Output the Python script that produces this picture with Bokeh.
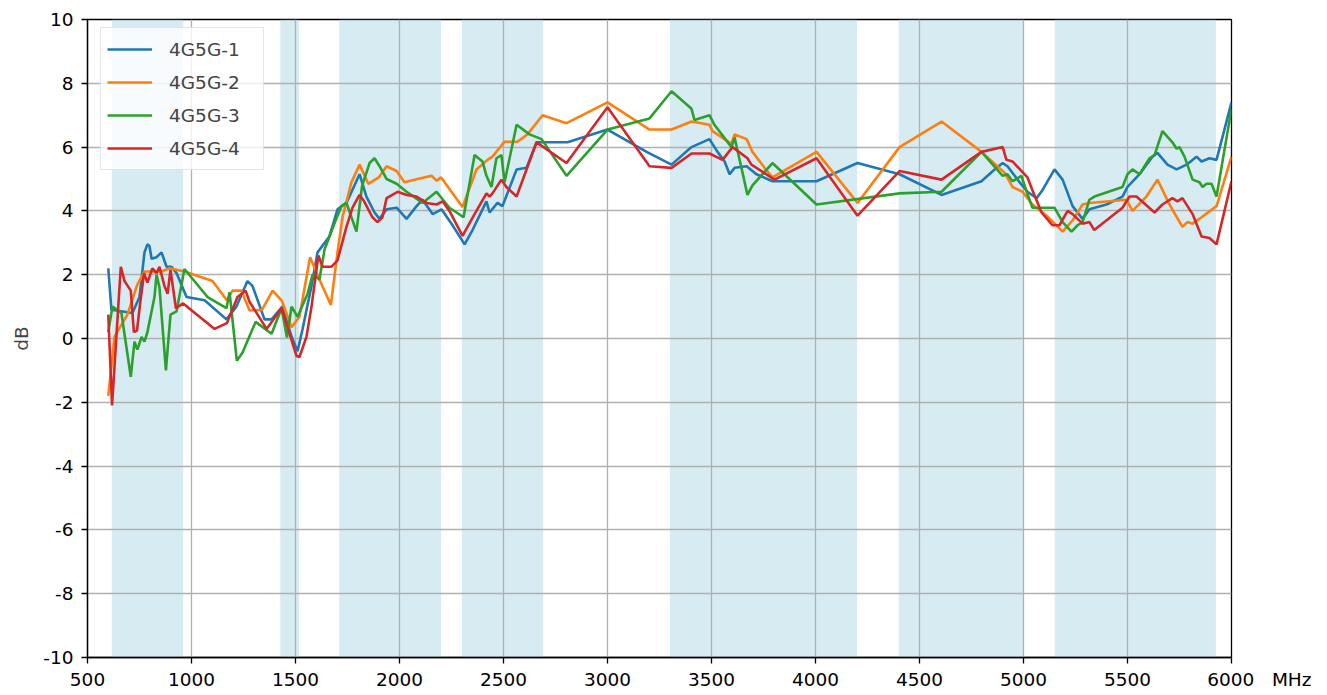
from bokeh.plotting import figure
from bokeh.models import BoxAnnotation, FixedTicker, Range1d
from bokeh.embed import file_html
from bokeh.resources import INLINE

# ---- data ----
band_start = [617, 1427, 1710, 2300, 3300, 4400, 5150]
band_end = [960, 1518, 2200, 2690, 4200, 5000, 5925]

x_ticks = [500, 1000, 1500, 2000, 2500, 3000, 3500, 4000, 4500, 5000, 5500, 6000]
y_ticks = [-10, -8, -6, -4, -2, 0, 2, 4, 6, 8, 10]
x_unit = "MHz"
y_unit = "dB"

s1_x = [600, 615, 716, 750, 774, 788, 798, 808, 832, 856, 880, 904, 928, 976, 1063, 1168, 1216, 1269, 1293,
        1351, 1385, 1437, 1481, 1510, 1534, 1577, 1606, 1663, 1702, 1745, 1808, 1841, 1880, 1904, 1938, 1986,
        2034, 2082, 2111, 2159, 2202, 2255, 2313, 2351, 2418, 2433, 2471, 2495, 2563, 2611, 2659, 2808, 3000,
        3188, 3308, 3404, 3490, 3529, 3563, 3587, 3611, 3669, 3716, 3793, 4005, 4202, 4404, 4606, 4798, 4861,
        4900, 4923, 4981, 5019, 5063, 5091, 5149, 5188, 5236, 5284, 5317, 5399, 5476, 5500, 5558, 5620, 5644,
        5692, 5736, 5784, 5832, 5856, 5894, 5928, 6000]
s1_y = [2.2, 0.9, 0.8, 1.3, 2.7, 2.95, 2.9, 2.5, 2.55, 2.7, 2.25, 2.25, 2.05, 1.3, 1.2, 0.6, 1.0, 1.8, 1.65,
        0.6, 0.6, 1.0, 0.06, -0.4, 0.3, 1.65, 2.7, 3.2, 4.05, 4.25, 5.15, 4.45, 3.95, 3.75, 4.05, 4.1,
        3.75, 4.15, 4.35, 3.9, 4.05, 3.55, 2.95, 3.4, 4.3, 3.95, 4.25, 4.15, 5.3, 5.35, 6.15, 6.15, 6.55,
        5.85, 5.45, 6.0, 6.25, 5.85, 5.55, 5.15, 5.35, 5.4, 5.15, 4.93, 4.93, 5.5, 5.15, 4.5, 4.93, 5.3,
        5.5, 5.4, 4.9, 4.6, 4.4, 4.65, 5.3, 4.98, 4.15, 3.75, 4.05, 4.2, 4.45, 4.75, 5.15, 5.7, 5.82,
        5.45, 5.3, 5.45, 5.7, 5.55, 5.65, 5.6, 7.4]

s2_x = [600, 630, 692, 740, 774, 856, 894, 966, 1101, 1170, 1197, 1240, 1279, 1339, 1390, 1435, 1481, 1519,
        1570, 1615, 1670, 1702, 1726, 1769, 1808, 1850, 1900, 1938, 1986, 2024, 2087, 2154, 2178, 2200, 2303,
        2370, 2423, 2447, 2505, 2567, 2615, 2688, 2803, 3000, 3202, 3308, 3404, 3490, 3505, 3596, 3611, 3669,
        3697, 3755, 3793, 4005, 4202, 4404, 4606, 4798, 4909, 4947, 4995, 5043, 5111, 5188, 5236, 5284, 5317,
        5495, 5524, 5591, 5644, 5702, 5764, 5788, 5813, 5856, 5928, 6000]
s2_y = [-1.8, 0.06, 0.75, 1.7, 2.1, 2.1, 2.2, 2.1, 1.8, 1.2, 1.5, 1.5, 0.88, 0.9, 1.5, 1.18, 0.35, 0.68,
        2.55, 1.85, 1.05, 2.7, 3.8, 4.9, 5.45, 4.85, 5.05, 5.4, 5.25, 4.9, 5.0, 5.1, 4.95, 5.05, 4.12,
        5.3, 5.6, 5.7, 6.17, 6.17, 6.4, 7.0, 6.75, 7.4, 6.55, 6.55, 6.8, 6.7, 6.5, 6.1, 6.4, 6.25,
        5.85, 5.35, 5.05, 5.85, 4.25, 6.0, 6.8, 5.85, 5.2, 4.75, 4.6, 4.2, 3.85, 3.35, 3.7, 4.2, 4.25,
        4.35, 4.0, 4.45, 4.98, 4.2, 3.5, 3.65, 3.6, 3.8, 4.15, 5.7]

s3_x = [600, 620, 663, 708, 726, 740, 760, 774, 788, 822, 832, 846, 877, 899, 928, 966, 1077, 1168, 1183,
        1218, 1245, 1308, 1385, 1433, 1459, 1481, 1510, 1558, 1582, 1615, 1640, 1690, 1721, 1745, 1793, 1820,
        1856, 1880, 1904, 1938, 1986, 2034, 2111, 2178, 2240, 2308, 2361, 2399, 2418, 2442, 2466, 2490, 2505,
        2563, 2625, 2683, 2803, 3000, 3202, 3308, 3404, 3418, 3490, 3514, 3596, 3611, 3649, 3673, 3697, 3793,
        4005, 4404, 4606, 4798, 4900, 4923, 4947, 4966, 4990, 5015, 5043, 5149, 5188, 5231, 5260, 5284, 5317,
        5341, 5476, 5500, 5524, 5558, 5606, 5630, 5668, 5716, 5736, 5750, 5774, 5813, 5846, 5861, 5880, 5904,
        5928, 6000]
s3_y = [0.2, 1.0, 0.8, -1.2, -0.1, -0.35, 0.05, -0.1, 0.2, 1.3, 2.0, 1.6, -1.0, 0.75, 0.85, 2.18, 1.3, 0.95, 1.45,
        -0.7, -0.45, 0.52, 0.15, 0.95, 0.03, 1.0, 0.68, 1.4, 2.0, 1.85, 2.8, 3.65, 4.15, 4.25, 3.35, 4.78,
        5.5, 5.65, 5.4, 5.0, 4.85, 4.6, 4.25, 4.6, 4.1, 3.8, 5.75, 5.55, 5.1, 4.75, 5.65, 5.75, 4.9,
        6.7, 6.4, 6.25, 5.1, 6.55, 6.9, 7.75, 7.2, 6.85, 7.0, 6.7, 6.0, 6.3, 5.2, 4.5, 4.8, 5.5,
        4.2, 4.55, 4.6, 5.85, 5.1, 5.15, 4.93, 5.0, 5.1, 4.6, 4.1, 4.1, 3.65, 3.35, 3.55, 3.65, 4.35,
        4.45, 4.75, 5.15, 5.3, 5.15, 5.65, 5.75, 6.5, 6.15, 5.95, 6.0, 5.7, 4.98, 4.9, 4.75, 4.85, 4.85,
        4.45, 7.2]

s4_x = [600, 618, 660, 678, 708, 723, 738, 755, 772, 788, 812, 832, 846, 870, 885, 899, 925, 960, 1111, 1170,
        1221, 1260, 1279, 1361, 1433, 1457, 1505, 1519, 1553, 1577, 1610, 1630, 1673, 1702, 1745, 1774, 1808,
        1830, 1870, 1894, 1918, 1938, 1991, 2034, 2082, 2130, 2178, 2207, 2240, 2303, 2361, 2418, 2433, 2447,
        2490, 2514, 2563, 2659, 2803, 3000, 3202, 3308, 3404, 3490, 3553, 3601, 3673, 3692, 3803, 4005, 4202,
        4404, 4606, 4798, 4900, 4918, 4947, 5019, 5043, 5087, 5139, 5173, 5212, 5236, 5284, 5317, 5340, 5476,
        5510, 5543, 5630, 5668, 5716, 5740, 5764, 5813, 5856, 5894, 5928, 6000]
s4_y = [0.75, -2.1, 2.25, 1.8, 1.5, 0.2, 0.25, 1.2, 2.05, 1.75, 2.2, 2.05, 2.25, 1.65, 1.4, 2.15, 0.95, 1.1, 0.3, 0.48,
        1.3, 1.5, 1.15, 0.3, 0.95, 0.45, -0.55, -0.58, 0.06, 1.0, 2.6, 2.25, 2.25, 2.45, 3.5, 4.1, 4.5,
        4.3, 3.8, 3.65, 3.8, 4.4, 4.6, 4.5, 4.45, 4.25, 4.2, 4.3, 4.0, 3.22, 3.9, 4.55, 4.45, 4.55,
        4.98, 4.75, 4.45, 6.15, 5.5, 7.25, 5.4, 5.35, 5.8, 5.8, 5.6, 6.0, 5.65, 5.45, 4.98, 5.65, 3.85,
        5.25, 4.98, 5.85, 6.0, 5.6, 5.55, 5.05, 4.65, 3.95, 3.55, 3.55, 4.0, 3.9, 3.6, 3.65, 3.4, 4.1,
        4.45, 4.45, 3.95, 4.2, 4.4, 4.3, 4.4, 3.9, 3.2, 3.15, 2.95, 4.93]

series = [
    ("4G5G-1", s1_x, s1_y, "#1f77b4"),
    ("4G5G-2", s2_x, s2_y, "#ff7f0e"),
    ("4G5G-3", s3_x, s3_y, "#2ca02c"),
    ("4G5G-4", s4_x, s4_y, "#d62728"),
]

FONT = "DejaVu Sans"
FS = "18.5px"
FRAME_H = 638

p = figure(frame_width=1144, frame_height=FRAME_H, min_border_left=87, min_border_top=19,
           min_border_right=80, min_border_bottom=10,
           x_range=Range1d(500, 6000), y_range=Range1d(-10, 10),
           output_backend="svg", toolbar_location=None)

for s, e in zip(band_start, band_end):
    p.add_layout(BoxAnnotation(left=s, right=e, fill_color="lightblue", fill_alpha=0.5,
                               line_color=None, level="image"))

for name, xs, ys, c in series:
    p.line(xs, ys, line_color=c, line_width=2.6, legend_label=name)

p.xaxis.ticker = FixedTicker(ticks=x_ticks)
p.yaxis.ticker = FixedTicker(ticks=y_ticks)
for ax in (p.xaxis, p.yaxis):
    ax.major_label_text_font = FONT
    ax.major_label_text_font_size = FS
    ax.major_label_text_color = "black"
    ax.axis_line_color = "black"
    ax.axis_line_width = 1.3
    ax.major_tick_line_color = "black"
    ax.major_tick_line_width = 1.3
    ax.major_tick_out = 6
    ax.major_tick_in = 0
    ax.minor_tick_line_color = None
    ax.axis_label_text_font = FONT
    ax.axis_label_text_font_size = FS
    ax.axis_label_text_font_style = "normal"
p.xaxis.major_label_standoff = 5
p.yaxis.major_label_standoff = 8

# plain hyphen minus signs, as in the reference
p.yaxis.major_label_overrides = {v: str(v) for v in y_ticks}
# unit written to the right of the last x tick label, on the same line
NB = "\u00a0"
p.xaxis.major_label_overrides = {x_ticks[-1]: NB * 11 + str(x_ticks[-1]) + NB * 3 + x_unit}

p.yaxis.axis_label = y_unit
p.yaxis.axis_label_standoff = 8

p.grid.grid_line_color = "#b0b0b0"
p.grid.grid_line_width = 1.3
p.outline_line_color = "black"
p.outline_line_width = 1.3
p.background_fill_color = "white"
p.border_fill_color = "white"

lg = p.legend[0]
lg.location = (13, FRAME_H - 8 - 143)
lg.margin = 0
lg.padding = 6
lg.spacing = 3
lg.glyph_width = 45
lg.glyph_height = 30
lg.label_height = 30
lg.label_standoff = 17
lg.label_width = 88
lg.label_text_font = FONT
lg.label_text_font_size = FS
lg.border_line_color = "#cccccc"
lg.border_line_width = 1.3
lg.background_fill_alpha = 0.8

open("out.html", "w").write(file_html(p, INLINE))
